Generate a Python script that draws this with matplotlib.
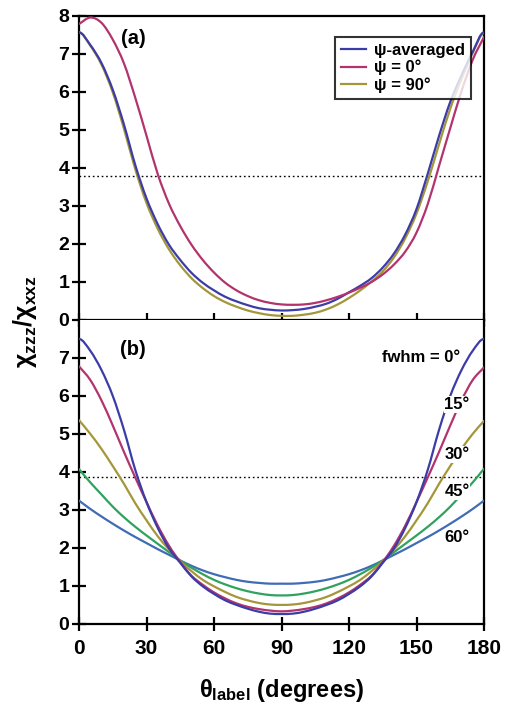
import matplotlib
matplotlib.use("Agg")
import matplotlib.pyplot as plt
from matplotlib.path import Path
from matplotlib.patches import PathPatch
from matplotlib.lines import Line2D

plt.rcParams['font.family'] = ['Liberation Sans', 'DejaVu Sans']
plt.rcParams['font.weight'] = 'bold'
plt.rcParams['mathtext.fontset'] = 'custom'
plt.rcParams['mathtext.rm'] = 'Liberation Sans:bold'
plt.rcParams['mathtext.it'] = 'Liberation Sans:bold'
plt.rcParams['mathtext.bf'] = 'Liberation Sans:bold'
plt.rcParams['mathtext.default'] = 'rm'

theta = [0, 5, 10, 15, 20, 25, 30, 35, 40, 45, 50, 55, 60, 65, 70, 75, 80, 85, 90,
         95, 100, 105, 110, 115, 120, 125, 130, 135, 140, 145, 150, 155, 160, 165, 170, 175, 180]

# panel (a)
psi_avg = [7.57, 7.24, 6.76, 6.06, 5.14, 4.08, 3.20, 2.52, 1.98, 1.58, 1.24, 0.98, 0.78, 0.61, 0.49, 0.39, 0.31, 0.27, 0.25,
           0.26, 0.29, 0.35, 0.43, 0.56, 0.73, 0.90, 1.10, 1.38, 1.75, 2.25, 2.92, 3.85, 4.84, 5.74, 6.44, 7.06, 7.57]
psi_0 = [7.79, 7.96, 7.82, 7.38, 6.75, 5.85, 4.85, 3.84, 3.06, 2.47, 1.98, 1.58, 1.25, 0.98, 0.78, 0.63, 0.52, 0.45, 0.41,
         0.40, 0.41, 0.45, 0.52, 0.61, 0.72, 0.85, 1.00, 1.20, 1.46, 1.80, 2.30, 3.05, 4.05, 5.05, 6.02, 6.85, 7.45]
psi_90 = [7.57, 7.22, 6.72, 5.99, 5.03, 3.97, 3.08, 2.40, 1.86, 1.44, 1.10, 0.84, 0.63, 0.47, 0.35, 0.25, 0.18, 0.13, 0.11,
          0.11, 0.14, 0.19, 0.28, 0.41, 0.58, 0.78, 1.01, 1.28, 1.65, 2.15, 2.80, 3.65, 4.62, 5.56, 6.34, 7.03, 7.55]

# panel (b)
fwhm_0 = [7.50, 7.19, 6.68, 6.00, 5.10, 4.05, 3.20, 2.52, 1.98, 1.60, 1.24, 0.98, 0.78, 0.61, 0.49, 0.39, 0.31, 0.26, 0.25,
          0.26, 0.31, 0.39, 0.49, 0.61, 0.78, 0.98, 1.24, 1.60, 1.98, 2.52, 3.20, 4.05, 5.10, 6.00, 6.68, 7.19, 7.50]
fwhm_15 = [6.78, 6.42, 5.88, 5.22, 4.52, 3.85, 3.20, 2.58, 2.05, 1.62, 1.26, 1.02, 0.82, 0.66, 0.53, 0.44, 0.38, 0.34, 0.32,
           0.34, 0.38, 0.44, 0.53, 0.66, 0.82, 1.02, 1.26, 1.62, 2.05, 2.58, 3.20, 3.85, 4.52, 5.22, 5.88, 6.42, 6.75]
fwhm_30 = [5.36, 5.00, 4.60, 4.15, 3.68, 3.17, 2.72, 2.30, 1.95, 1.64, 1.38, 1.15, 0.98, 0.83, 0.70, 0.61, 0.54, 0.50, 0.49,
           0.50, 0.54, 0.61, 0.70, 0.83, 0.98, 1.15, 1.38, 1.64, 1.95, 2.30, 2.72, 3.17, 3.68, 4.15, 4.60, 5.00, 5.34]
fwhm_45 = [4.07, 3.72, 3.40, 3.08, 2.80, 2.55, 2.32, 2.10, 1.88, 1.66, 1.47, 1.30, 1.15, 1.03, 0.93, 0.85, 0.79, 0.75, 0.74,
           0.75, 0.79, 0.85, 0.93, 1.03, 1.15, 1.30, 1.47, 1.66, 1.88, 2.10, 2.32, 2.55, 2.80, 3.08, 3.40, 3.72, 4.08]
fwhm_60 = [3.24, 3.02, 2.82, 2.63, 2.45, 2.28, 2.12, 1.96, 1.81, 1.66, 1.52, 1.40, 1.30, 1.22, 1.15, 1.10, 1.07, 1.05, 1.05,
           1.05, 1.07, 1.10, 1.15, 1.22, 1.30, 1.40, 1.52, 1.66, 1.81, 1.96, 2.12, 2.28, 2.45, 2.63, 2.82, 3.02, 3.24]

ref_a = 3.8
ref_b = 3.87

legend_labels = ['ψ-averaged', 'ψ = 0°', 'ψ = 90°']
fwhm_labels = ['fwhm = 0°', '15°', '30°', '45°', '60°']
xticks = [0, 30, 60, 90, 120, 150, 180]

c_blue = '#3c3ca6'
c_pink = '#b2346e'
c_olive = '#a4963a'
c_green = '#2fa25e'
c_steel = '#3f6cb4'


def smooth_line(ax, x, y, color, lw, z, flat=False):
    """Draw the measured points as a smooth curve (Catmull-Rom rendered as cubic Bezier)."""
    n = len(x)
    px = [2 * x[0] - x[1]] + list(x) + [2 * x[-1] - x[-2]]
    if flat:
        py = [y[1]] + list(y) + [y[-2]]
    else:
        py = [2 * y[0] - y[1]] + list(y) + [2 * y[-1] - y[-2]]
    verts = [(x[0], y[0])]
    codes = [Path.MOVETO]
    for i in range(1, n):
        p0x, p0y = px[i - 1], py[i - 1]
        p1x, p1y = px[i], py[i]
        p2x, p2y = px[i + 1], py[i + 1]
        p3x, p3y = px[i + 2], py[i + 2]
        verts += [(p1x + (p2x - p0x) / 6, p1y + (p2y - p0y) / 6),
                  (p2x - (p3x - p1x) / 6, p2y - (p3y - p1y) / 6),
                  (p2x, p2y)]
        codes += [Path.CURVE4] * 3
    ax.add_patch(PathPatch(Path(verts, codes), fill=False, edgecolor=color, lw=lw,
                           zorder=z, capstyle='round', joinstyle='round'))


W, H = 512, 709
fig = plt.figure(figsize=(W / 100, H / 100), dpi=100)
x0, x1 = 79, 484
ya_top, ya_bot, yb_bot = 16, 320, 623.5
ax1 = fig.add_axes([x0 / W, 1 - ya_bot / H, (x1 - x0) / W, (ya_bot - ya_top) / H])
ax2 = fig.add_axes([x0 / W, 1 - yb_bot / H, (x1 - x0) / W, (yb_bot - ya_bot) / H])

lw = 1.6
smooth_line(ax1, theta, psi_90, c_olive, lw, 3, flat=True)
smooth_line(ax1, theta, psi_avg, c_blue, lw, 4, flat=True)
smooth_line(ax1, theta, psi_0, c_pink, lw, 5)
ax1.axhline(ref_a, color='black', lw=1.0, ls=(0, (1.2, 2.0)), zorder=2)

handles = [Line2D([], [], color=c_blue, lw=lw),
           Line2D([], [], color=c_pink, lw=lw),
           Line2D([], [], color=c_olive, lw=lw)]
leg = ax1.legend(handles, legend_labels, loc='upper right', bbox_to_anchor=(0.968, 0.931),
                 borderaxespad=0, fancybox=False, frameon=True, edgecolor='black',
                 prop={'weight': 'bold', 'size': 12}, handlelength=1.5, handletextpad=0.5,
                 labelspacing=0.12, borderpad=0.35)
leg.get_frame().set_linewidth(1.5)
leg.set_zorder(10)

ax1.text(24, 7.42, '(a)', fontsize=14.5, fontweight='bold', ha='center', va='center')

cols_b = [c_blue, c_pink, c_olive, c_green, c_steel]
series_b = [fwhm_0, fwhm_15, fwhm_30, fwhm_45, fwhm_60]
flats = [True, False, False, False, False]
for s, c, z, f in zip(series_b[::-1], cols_b[::-1], range(3, 8), flats[::-1]):
    smooth_line(ax2, theta, s, c, lw, z, flat=f)
ax2.axhline(ref_b, color='black', lw=1.0, ls=(0, (1.2, 2.0)), zorder=2)
ax2.text(24, 7.23, '(b)', fontsize=14.5, fontweight='bold', ha='center', va='center')

bb = dict(facecolor='white', edgecolor='none', pad=0.6)
ax2.text(169.5, 7.0, fwhm_labels[0], fontsize=12, fontweight='bold', ha='right', va='center', zorder=10)
ax2.text(168, 5.77, fwhm_labels[1], fontsize=12, fontweight='bold', ha='center', va='center', bbox=bb, zorder=10)
ax2.text(168, 4.45, fwhm_labels[2], fontsize=12, fontweight='bold', ha='center', va='center', bbox=bb, zorder=10)
ax2.text(168, 3.47, fwhm_labels[3], fontsize=12, fontweight='bold', ha='center', va='center', bbox=bb, zorder=10)
ax2.text(168, 2.26, fwhm_labels[4], fontsize=12, fontweight='bold', ha='center', va='center', bbox=bb, zorder=10)

for ax in (ax1, ax2):
    ax.set_xlim(0, 180)
    ax.set_ylim(0, 8)
    ax.set_xticks(xticks)
    for sp in ax.spines.values():
        sp.set_linewidth(1.6)
    ax.tick_params(direction='inout', length=10, width=1.6)
    ax.tick_params(axis='y', labelsize=14, pad=2)
    ax.tick_params(axis='x', labelsize=15, pad=6)

ax1.set_yticks(range(0, 9))
ax1.tick_params(axis='x', labelbottom=False)
ax2.set_yticks(range(0, 8))
ax2.spines['top'].set_visible(False)
for ax in (ax1, ax2):
    for lab in ax.get_xticklabels() + ax.get_yticklabels():
        lab.set_fontweight('bold')

fig.text(0.048, 1 - 322 / H, r'$χ_{zzz}/χ_{xxz}$', rotation=90, fontsize=18,
         ha='center', va='center')
fig.text((x0 + x1) / 2 / W, 1 - 690 / H, r'$θ_{label}$ (degrees)', fontsize=17,
         fontweight='bold', ha='center', va='center')

fig.savefig('out.png', dpi=100)
